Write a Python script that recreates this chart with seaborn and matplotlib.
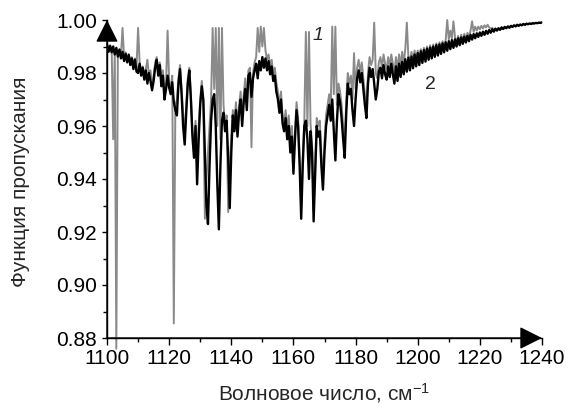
import numpy as np
import pandas as pd
import matplotlib
matplotlib.use("Agg")
import matplotlib.pyplot as plt
import seaborn as sns
from matplotlib.ticker import MultipleLocator, FormatStrFormatter
from matplotlib import font_manager

# ---------------- data ----------------
x_start = 1100.0
x_step = 0.5

# curve 2 (black), values every 0.5 cm-1 starting at 1100
curve2 = [
    0.9905, 0.9880, 0.9902, 0.9878, 0.9900, 0.9870, 0.9895, 0.9862, 0.9888, 0.9855,  # 1100
    0.9880, 0.9845, 0.9872, 0.9840, 0.9868, 0.9830, 0.9855, 0.9815, 0.9850, 0.9805,  # 1105
    0.9800, 0.9835, 0.9790, 0.9820, 0.9775, 0.9810, 0.9760, 0.9800, 0.9770, 0.9735,  # 1110
    0.9770, 0.9820, 0.9850, 0.9790, 0.9830, 0.9750, 0.9790, 0.9700, 0.9740, 0.9790,  # 1115
    0.9745, 0.9720, 0.9765, 0.9690, 0.9660, 0.9640, 0.9760, 0.9815, 0.9720, 0.9600,  # 1120
    0.9530, 0.9650, 0.9760, 0.9810, 0.9700, 0.9560, 0.9480, 0.9600, 0.9380, 0.9550,  # 1125
    0.9680, 0.9750, 0.9700, 0.9500, 0.9300, 0.9230, 0.9450, 0.9620, 0.9700, 0.9720,  # 1130
    0.9600, 0.9380, 0.9210, 0.9450, 0.9620, 0.9650, 0.9580, 0.9620, 0.9480, 0.9290,  # 1135
    0.9500, 0.9640, 0.9580, 0.9660, 0.9560, 0.9650, 0.9700, 0.9600, 0.9690, 0.9740,  # 1140
    0.9660, 0.9790, 0.9800, 0.9710, 0.9780, 0.9810, 0.9835, 0.9780, 0.9845, 0.9810,  # 1145
    0.9860, 0.9820, 0.9855, 0.9810, 0.9845, 0.9795, 0.9825, 0.9770, 0.9790, 0.9730,  # 1150
    0.9700, 0.9650, 0.9700, 0.9610, 0.9580, 0.9630, 0.9550, 0.9600, 0.9500, 0.9560,  # 1155
    0.9420, 0.9550, 0.9660, 0.9600, 0.9450, 0.9250, 0.9450, 0.9600, 0.9620, 0.9550,  # 1160
    0.9400, 0.9580, 0.9500, 0.9240, 0.9420, 0.9600, 0.9560, 0.9580, 0.9450, 0.9360,  # 1165
    0.9500, 0.9600, 0.9640, 0.9680, 0.9620, 0.9700, 0.9580, 0.9470, 0.9620, 0.9720,  # 1170
    0.9690, 0.9630, 0.9550, 0.9480, 0.9650, 0.9760, 0.9720, 0.9740, 0.9660, 0.9600,  # 1175
    0.9700, 0.9780, 0.9810, 0.9765, 0.9800, 0.9740, 0.9680, 0.9630, 0.9760, 0.9820,  # 1180
    0.9785, 0.9815, 0.9760, 0.9700, 0.9740, 0.9805, 0.9820, 0.9780, 0.9830, 0.9795,  # 1185
    0.9775, 0.9825, 0.9785, 0.9835, 0.9795, 0.9760, 0.9825, 0.9770, 0.9835, 0.9785,  # 1190
    0.9842, 0.9795, 0.9852, 0.9805, 0.9858, 0.9810, 0.9862, 0.9818, 0.9870, 0.9825,  # 1195
    0.9875, 0.9830, 0.9882, 0.9838, 0.9887, 0.9843, 0.9892, 0.9850, 0.9896, 0.9855,  # 1200
    0.9900, 0.9861, 0.9905, 0.9866, 0.9908, 0.9872, 0.9912, 0.9878, 0.9916, 0.9884,  # 1205
    0.9920, 0.9890, 0.9924, 0.9895, 0.9927, 0.9900, 0.9931, 0.9905, 0.9934, 0.9910,  # 1210
    0.9937, 0.9915, 0.9940, 0.9920, 0.9944, 0.9926, 0.9947, 0.9931, 0.9950, 0.9936,  # 1215
    0.9953, 0.9940, 0.9956, 0.9944, 0.9959, 0.9948, 0.9962, 0.9952, 0.9965, 0.9956,  # 1220
    0.9967, 0.9960, 0.9969, 0.9963, 0.9972, 0.9966, 0.9974, 0.9969, 0.9976, 0.9971,  # 1225
    0.9978, 0.9974, 0.9980, 0.9976, 0.9982, 0.9978, 0.9983, 0.9980, 0.9985, 0.9982,  # 1230
    0.9986, 0.9984, 0.9987, 0.9985, 0.9988, 0.9987, 0.9989, 0.9988, 0.9990, 0.9989,  # 1235
    0.9991,                                                                          # 1240
]

# curve 1 (grey), same sampling
curve1 = [
    0.9910, 0.9895, 0.9905, 0.9890, 0.9550, 0.9885, 0.8760, 0.9875, 0.9890, 0.9868,  # 1100
    0.9970, 0.9860, 0.9878, 0.9852, 0.9872, 0.9845, 0.9860, 0.9830, 0.9855, 0.9820,  # 1105
    0.9970, 0.9840, 0.9805, 0.9825, 0.9790, 0.9815, 0.9850, 0.9790, 0.9810, 0.9750,  # 1110
    0.9790, 0.9840, 0.9860, 0.9810, 0.9840, 0.9770, 0.9810, 0.9720, 0.9760, 0.9960,  # 1115
    0.9770, 0.9740, 0.9790, 0.8855, 0.9680, 0.9700, 0.9780, 0.9830, 0.9740, 0.9650,  # 1120
    0.9560, 0.9680, 0.9780, 0.9820, 0.9720, 0.9580, 0.9520, 0.9620, 0.9440, 0.9600,  # 1125
    0.9700, 0.9770, 0.9690, 0.9250, 0.9400, 0.9500, 0.9600, 0.9700, 0.9970, 0.9740,  # 1130
    0.9970, 0.9600, 0.9970, 0.9550, 0.9970, 0.9680, 0.9600, 0.9640, 0.9275, 0.9450,  # 1135
    0.9560, 0.9660, 0.9610, 0.9690, 0.9590, 0.9680, 0.9730, 0.9630, 0.9720, 0.9780,  # 1140
    0.9690, 0.9810, 0.9820, 0.9520, 0.9800, 0.9840, 0.9860, 0.9970, 0.9880, 0.9975,  # 1145
    0.9900, 0.9970, 0.9885, 0.9850, 0.9870, 0.9825, 0.9850, 0.9795, 0.9820, 0.9765,  # 1150
    0.9730, 0.9680, 0.9730, 0.9640, 0.9610, 0.9660, 0.9580, 0.9640, 0.9540, 0.9600,  # 1155
    0.9460, 0.9580, 0.9690, 0.9630, 0.9480, 0.9290, 0.9480, 0.9620, 0.9955, 0.9600,  # 1160
    0.9955, 0.9610, 0.9530, 0.9280, 0.9460, 0.9630, 0.9600, 0.9620, 0.9490, 0.9400,  # 1165
    0.9540, 0.9640, 0.9680, 0.9720, 0.9660, 0.9975, 0.9720, 0.9975, 0.9680, 0.9760,  # 1170
    0.9730, 0.9680, 0.9600, 0.9530, 0.9700, 0.9800, 0.9760, 0.9790, 0.9700, 0.9875,  # 1175
    0.9740, 0.9820, 0.9850, 0.9800, 0.9840, 0.9780, 0.9720, 0.9680, 0.9800, 0.9860,  # 1180
    0.9830, 0.9850, 0.9990, 0.9800, 0.9780, 0.9840, 0.9860, 0.9820, 0.9870, 0.9835,  # 1185
    0.9815, 0.9860, 0.9825, 0.9870, 0.9835, 0.9800, 0.9860, 0.9810, 0.9870, 0.9825,  # 1190
    0.9880, 0.9835, 0.9890, 0.9990, 0.9860, 0.9850, 0.9880, 0.9840, 0.9885, 0.9845,  # 1195
    0.9885, 0.9850, 0.9890, 0.9855, 0.9895, 0.9860, 0.9900, 0.9865, 0.9905, 0.9870,  # 1200
    0.9908, 0.9875, 0.9912, 0.9880, 0.9916, 0.9885, 0.9920, 0.9890, 0.9925, 1.0000,  # 1205
    0.9926, 0.9960, 0.9930, 0.9995, 0.9935, 0.9910, 0.9940, 0.9915, 0.9945, 0.9920,  # 1210
    0.9948, 0.9925, 0.9952, 0.9935, 0.9960, 0.9995, 0.9955, 0.9975, 0.9960, 0.9975,  # 1215
    0.9965, 0.9978, 0.9968, 0.9980, 0.9972, 0.9982, 0.9972, 0.9968, 0.9970, 0.9964,  # 1220
    0.9968, 0.9962, 0.9967, 0.9963, 0.9970, 0.9966, 0.9972, 0.9969, 0.9974, 0.9971,  # 1225
    0.9976, 0.9974, 0.9978, 0.9976, 0.9980, 0.9978, 0.9982, 0.9980, 0.9984, 0.9982,  # 1230
    0.9985, 0.9984, 0.9986, 0.9985, 0.9987, 0.9987, 0.9989, 0.9988, 0.9990, 0.9989,  # 1235
    0.9991,                                                                          # 1240
]

x_ticks = [1100, 1120, 1140, 1160, 1180, 1200, 1220, 1240]
y_ticks = [0.88, 0.90, 0.92, 0.94, 0.96, 0.98, 1.00]
curve_labels = ["1", "2"]
label_pos = [(1168.0, 0.9943), (1204.0, 0.9755)]

x_label = "Волновое число, см$^{-1}$"
y_label = "Функция пропускания"

# ---------------- plotting ----------------
sns.set_style("ticks")
names = {f.name for f in font_manager.fontManager.ttflist}
main_font = "Liberation Sans Narrow" if "Liberation Sans Narrow" in names else "Liberation Sans"
plt.rcParams["font.family"] = [main_font, "Liberation Sans", "DejaVu Sans"]
plt.rcParams["mathtext.fontset"] = "custom"
plt.rcParams["mathtext.rm"] = main_font
plt.rcParams["mathtext.it"] = main_font + ":italic"
plt.rcParams["axes.unicode_minus"] = True

fs = 18 if main_font == "Liberation Sans Narrow" else 15

df1 = pd.DataFrame({"x": x_start + x_step * np.arange(len(curve1)), "y": curve1})
df2 = pd.DataFrame({"x": x_start + x_step * np.arange(len(curve2)), "y": curve2})

fig = plt.figure(figsize=(5.72, 4.09), dpi=100)
ax = fig.add_axes([107 / 572, 71 / 409, 435 / 572, 318 / 409])

sns.lineplot(data=df1, x="x", y="y", ax=ax, color="#8a8a8a", linewidth=1.4,
             estimator=None, sort=False, clip_on=False, zorder=2)
sns.lineplot(data=df2, x="x", y="y", ax=ax, color="black", linewidth=1.7,
             estimator=None, sort=False, zorder=3)

ax.set_xlim(1100, 1240)
ax.set_ylim(0.88, 1.00)
ax.set_xticks(x_ticks)
ax.set_yticks(y_ticks)
ax.xaxis.set_minor_locator(MultipleLocator(10))
ax.yaxis.set_minor_locator(MultipleLocator(0.01))
ax.yaxis.set_major_formatter(FormatStrFormatter("%.2f"))
ax.tick_params(axis="both", which="both", width=1, color="black",
               labelcolor="black", labelsize=fs, direction="out")
ax.tick_params(axis="x", which="major", length=5, pad=3)
ax.tick_params(axis="y", which="major", length=3.6, pad=3.5)
ax.tick_params(axis="both", which="minor", length=3)

sns.despine(ax=ax)
for s in ["left", "bottom"]:
    ax.spines[s].set_linewidth(1.0)
    ax.spines[s].set_color("black")

# arrow heads on the axes
arrow_kw = dict(arrowstyle="-|>,head_length=14,head_width=7", mutation_scale=1,
                color="black", lw=1.0, shrinkA=0, shrinkB=0)
ax.annotate("", xy=(1.0, 0.0), xytext=(0.0, 0.0), xycoords="axes fraction",
            textcoords="axes fraction", arrowprops=arrow_kw, annotation_clip=False)
ax.annotate("", xy=(0.0, 1.0), xytext=(0.0, 0.0), xycoords="axes fraction",
            textcoords="axes fraction", arrowprops=arrow_kw, annotation_clip=False)

for lab, (lx, ly), st in zip(curve_labels, label_pos, ["italic", "normal"]):
    ax.text(lx, ly, lab, fontsize=fs - 1, style=st, ha="center", va="center")

ax.set_xlabel(x_label, fontsize=fs)
ax.set_ylabel(y_label, fontsize=fs)
ax.xaxis.set_label_coords(0.5, -0.135)
ax.yaxis.set_label_coords(-0.178, 0.49)

fig.savefig("out.png", dpi=100)
